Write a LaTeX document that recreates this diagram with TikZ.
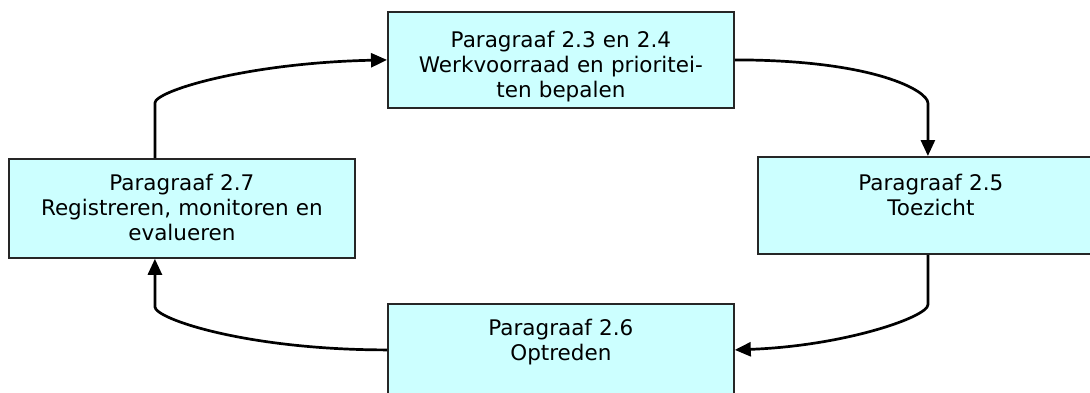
\documentclass[tikz,border=0pt]{standalone}
\usepackage{fontspec}
\setmainfont{DejaVu Sans}
\usepackage{xcolor}
\usepackage{tikz}
\usetikzlibrary{arrows.meta, calc}
\definecolor{lightcyan}{RGB}{204, 255, 255}
\tikzstyle{paragraaf} = [
    rectangle,
    anchor=north west,
    draw=black!85,
    line width=1.8pt,
    fill=lightcyan,
    inner xsep=4pt,
    inner ysep=0pt,
    text width=338pt,
    align=center,
    text height=32pt,
    font=\fontsize{21.5}{25}\selectfont
]
\tikzstyle{arrow} = [
    line width=2.7pt,
    -{Triangle[length=16pt, width=14pt]},
    color=black
]

\begin{document}
\begin{tikzpicture}[x=1pt, y=-1pt]
    \clip (0,0) rectangle (1090,392);
    \fill[white] (0,0) rectangle (1090,392);

    \node[paragraaf, text height=36pt, text depth=60pt] (p23) at (387,11) {Paragraaf 2.3 en 2.4\\ Werkvoorraad en prioritei-\\ ten bepalen};
    \node[paragraaf, text height=34pt, text depth=63pt] (p25) at (757,156) {Paragraaf 2.5\\ Toezicht};
    \node[paragraaf, text depth=60pt] (p26) at (387,303) {Paragraaf 2.6\\ Optreden};
    \node[paragraaf, text depth=67pt] (p27) at (8,158) {Paragraaf 2.7\\ Registreren, monitoren en\\ evalueren};

    \draw[arrow] ($(p27.north)+(-27,0)$) -- ++(0,-55) .. controls +(0,-12) and +(-140,3) .. (p23.west);
    \draw[arrow] (p23.east) .. controls +(140,0) and +(0,-12) .. ($(p25.north)+(-3,-53)$) -- ($(p25.north)+(-3,0)$);
    \draw[arrow] ($(p25.south)+(-3,0)$) -- ++(0,50) .. controls +(0,12) and +(110,-4) .. (p26.east);
    \draw[arrow] (p26.west) .. controls +(-140,0) and +(0,12) .. ($(p27.south)+(-27,48)$) -- ($(p27.south)+(-27,0)$);
\end{tikzpicture}
\end{document}
